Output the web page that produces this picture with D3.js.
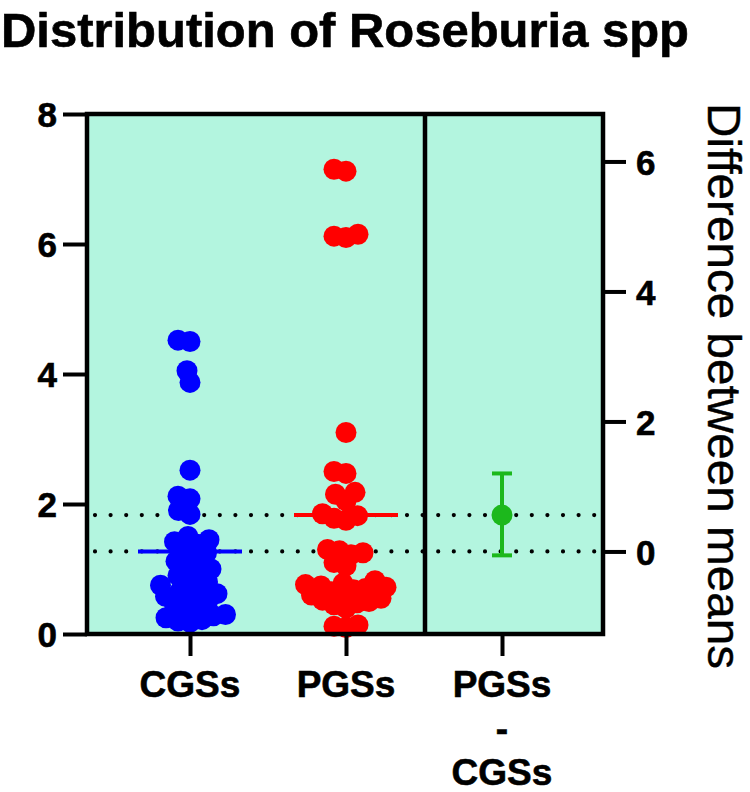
<!DOCTYPE html>
<html>
<head>
<meta charset="utf-8">
<script src="https://cdn.jsdelivr.net/npm/d3@7"></script>
<style>
  html, body { margin: 0; padding: 0; background: #ffffff; }
  svg { display: block; font-family: "Liberation Sans", Arial, Helvetica, sans-serif; }
</style>
</head>
<body>
<svg id="chart" width="750" height="792"></svg>
<script>
// ---------------- DATA ----------------
const title = "Distribution of Roseburia spp";
const categories = ["CGSs", "PGSs", "PGSs - CGSs"];
const categoryLines = [["CGSs"], ["PGSs"], ["PGSs", "-", "CGSs"]];
const cgssValues = [4.52, 4.50, 4.05, 3.87, 2.52, 2.12, 2.08, 1.90, 1.84, 1.50, 1.45, 1.42,
  1.38, 1.30, 1.25, 1.20, 1.12, 1.05, 1.00, 0.98, 0.90, 0.85, 0.80, 0.75, 0.70, 0.66,
  0.62, 0.58, 0.55, 0.50, 0.45, 0.40, 0.35, 0.30, 0.28, 0.25, 0.22, 0.20, 0.18];
const pgssValues = [7.15, 7.12, 6.15, 6.12, 6.10, 3.10, 2.50, 2.47, 2.18, 2.15, 2.05, 1.85,
  1.82, 1.78, 1.75, 1.30, 1.28, 1.25, 1.22, 1.10, 1.05, 0.82, 0.78, 0.76, 0.74, 0.72,
  0.70, 0.68, 0.65, 0.60, 0.58, 0.55, 0.52, 0.50, 0.48, 0.45, 0.40, 0.14, 0.12, 0.10];
const groupMeans = [1.27, 1.83];
const diffMean = 0.56;
const diffCI = [-0.06, 1.20];
const leftTicks = [0, 2, 4, 6, 8];
const rightTicks = [0, 2, 4, 6];
const rightTitle = "Difference between means";

// ---------------- LAYOUT ----------------
const svg = d3.select("#chart");
const plotLeft = 87, plotRight = 603, plotTop = 114, plotBottom = 634, divider = 425;
const colors = { bg: "#b3f5df", cgss: "#0000ff", pgss: "#ff0000", diff: "#1cb81c" };
const R = 10.5;

const y = d3.scaleLinear().domain([0, 8]).range([plotBottom, plotTop]);
const yR = d3.scaleLinear().domain([0 - groupMeans[0], 8 - groupMeans[0]]).range([plotBottom, plotTop]);
const x = d3.scaleLinear().domain([0, 2]).range([190, 502]);

// background panel
svg.append("rect").attr("x", plotLeft).attr("y", plotTop)
  .attr("width", plotRight - plotLeft).attr("height", plotBottom - plotTop)
  .attr("fill", colors.bg);

// dotted reference lines (group means)
svg.append("g").selectAll("line").data(groupMeans).join("line")
  .attr("x1", plotLeft + 8).attr("x2", plotRight - 2)
  .attr("y1", d => y(d)).attr("y2", d => y(d))
  .attr("stroke", "#000").attr("stroke-width", 4.2)
  .attr("stroke-linecap", "round").attr("stroke-dasharray", "0,15.6");

// beeswarm layout computed from the values
function swarm(values, cx, dmin) {
  const placed = [];
  const sorted = values.slice().sort((a, b) => a - b);
  sorted.forEach(v => {
    const py = y(v);
    let best = null;
    for (let k = 0; k < 400; k++) {
      const off = (k % 2 === 0 ? 1 : -1) * Math.ceil(k / 2) * 0.5;
      const px = cx + off;
      const ok = placed.every(p => Math.hypot(p.x - px, p.y - py) >= dmin);
      if (ok) { best = px; break; }
    }
    placed.push({ x: best, y: py, v });
  });
  return placed;
}

const groups = [
  { vals: cgssValues, color: colors.cgss, idx: 0 },
  { vals: pgssValues, color: colors.pgss, idx: 1 }
];
groups.forEach(g => {
  const pts = swarm(g.vals, x(g.idx), 12);
  svg.append("g").selectAll("circle").data(pts).join("circle")
    .attr("cx", d => d.x).attr("cy", d => d.y).attr("r", R)
    .attr("fill", g.color);
  svg.append("line")
    .attr("x1", x(g.idx) - 52).attr("x2", x(g.idx) + 52)
    .attr("y1", y(groupMeans[g.idx])).attr("y2", y(groupMeans[g.idx]))
    .attr("stroke", g.color).attr("stroke-width", 4);
});

// difference estimate with CI
const dg = svg.append("g");
dg.append("line").attr("x1", x(2)).attr("x2", x(2))
  .attr("y1", yR(diffCI[0])).attr("y2", yR(diffCI[1]))
  .attr("stroke", colors.diff).attr("stroke-width", 4);
dg.selectAll("line.cap").data(diffCI).join("line").attr("class", "cap")
  .attr("x1", x(2) - 10).attr("x2", x(2) + 10)
  .attr("y1", d => yR(d)).attr("y2", d => yR(d))
  .attr("stroke", colors.diff).attr("stroke-width", 4);
dg.append("circle").attr("cx", x(2)).attr("cy", yR(diffMean)).attr("r", R)
  .attr("fill", colors.diff);

// frame
svg.append("rect").attr("x", plotLeft).attr("y", plotTop)
  .attr("width", plotRight - plotLeft).attr("height", plotBottom - plotTop)
  .attr("fill", "none").attr("stroke", "#000").attr("stroke-width", 4.5);
svg.append("line").attr("x1", divider).attr("x2", divider)
  .attr("y1", plotTop).attr("y2", plotBottom)
  .attr("stroke", "#000").attr("stroke-width", 4.5);

// axes
function styleAxis(g) {
  g.select(".domain").remove();
  g.selectAll(".tick line").attr("stroke", "#000").attr("stroke-width", 4);
  g.selectAll(".tick text").attr("fill", "#000")
    .attr("stroke", "#000").attr("stroke-width", 0.6)
    .style("font-size", "35px").style("font-weight", "bold");
}
svg.append("g").attr("transform", `translate(${plotLeft},0)`)
  .call(d3.axisLeft(y).tickValues(leftTicks).tickSize(24).tickPadding(6).tickFormat(d3.format("d")))
  .call(styleAxis)
  .selectAll(".tick text").attr("dy", "0.36em");
svg.append("g").attr("transform", `translate(${plotRight},0)`)
  .call(d3.axisRight(yR).tickValues(rightTicks).tickSize(23).tickPadding(10).tickFormat(d3.format("d")))
  .call(styleAxis)
  .selectAll(".tick text").attr("dy", "0.36em");

const xa = svg.append("g").attr("transform", `translate(0,${plotBottom})`)
  .call(d3.axisBottom(x).tickValues([0, 1, 2]).tickSize(22).tickFormat(""));
xa.select(".domain").remove();
xa.selectAll(".tick line").attr("stroke", "#000").attr("stroke-width", 4);

// category labels
categoryLines.forEach((lines, i) => {
  const t = svg.append("text").attr("x", x(i)).attr("y", 697)
    .attr("text-anchor", "middle").style("font-size", "37px").style("font-weight", "bold")
    .attr("fill", "#000").attr("stroke", "#000").attr("stroke-width", 0.6);
  lines.forEach((ln, j) => {
    t.append("tspan").attr("x", x(i)).attr("y", 697 + j * 44).text(ln);
  });
});

// titles
svg.append("text").attr("x", 1).attr("y", 47)
  .attr("textLength", 688).attr("lengthAdjust", "spacingAndGlyphs")
  .style("font-size", "48px").style("font-weight", "bold").attr("fill", "#000")
  .attr("stroke", "#000").attr("stroke-width", 0.6)
  .text(title);
svg.append("text").attr("transform", `translate(708,${(plotTop + plotBottom) / 2 + 12}) rotate(90)`)
  .attr("text-anchor", "middle").attr("textLength", 566).attr("lengthAdjust", "spacingAndGlyphs")
  .style("font-size", "47px").attr("fill", "#000")
  .attr("stroke", "#000").attr("stroke-width", 0.4)
  .text(rightTitle);
</script>
</body>
</html>
